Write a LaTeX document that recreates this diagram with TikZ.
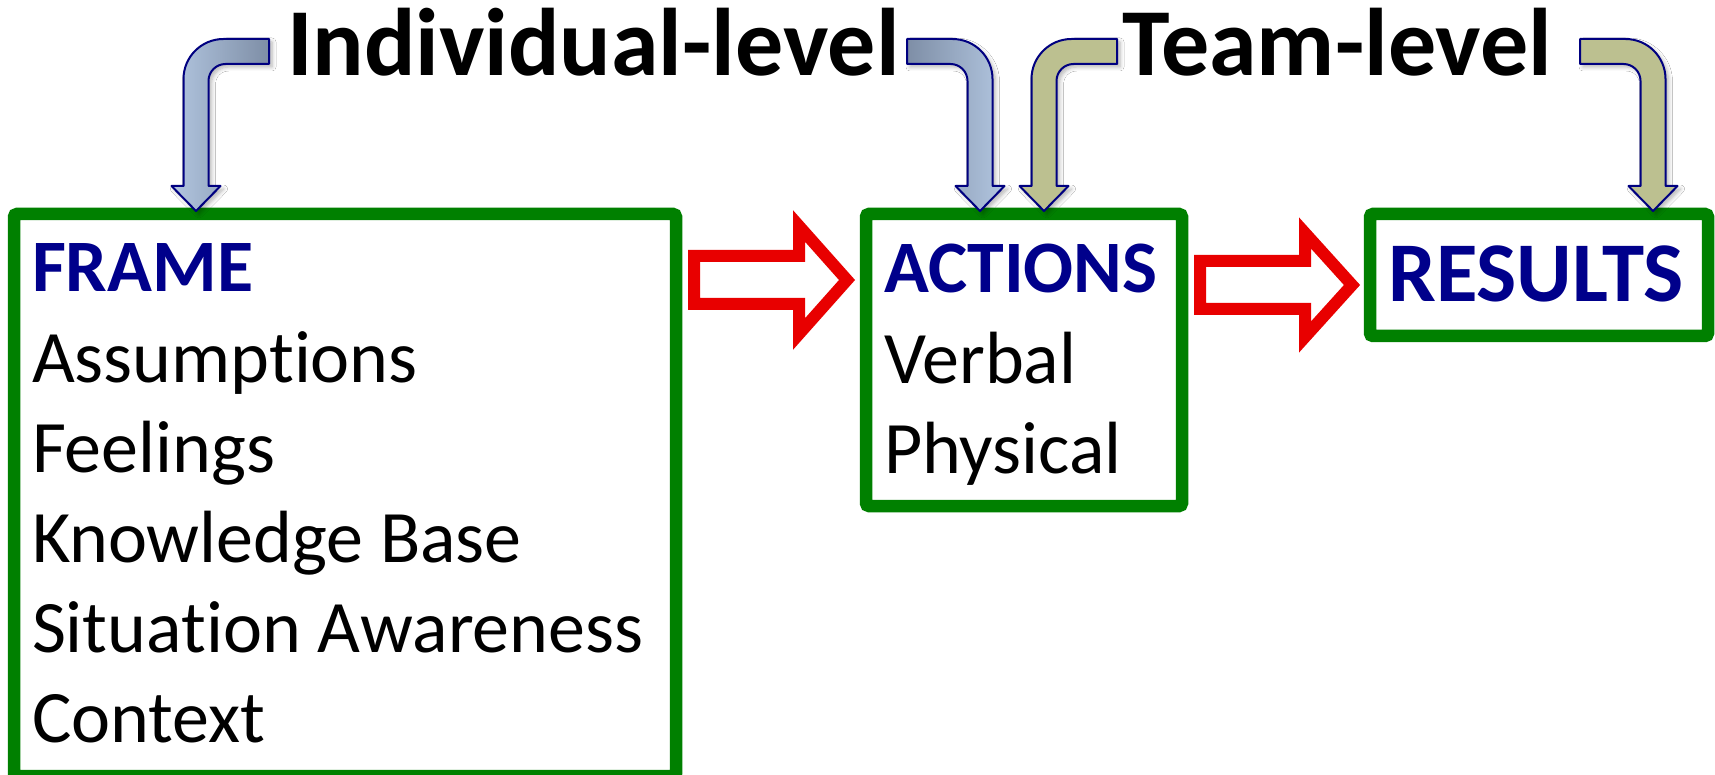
\documentclass[tikz,border=0pt]{standalone}
\usepackage{fontspec}
\setmainfont{Carlito}[Ligatures={NoCommon,NoContextual}]
\usetikzlibrary{shadows.blur}

\definecolor{boxgreen}{RGB}{0,128,0}
\definecolor{headblue}{RGB}{0,0,139}
\definecolor{arrowred}{RGB}{232,0,0}
\definecolor{steellight}{RGB}{178,198,224}
\definecolor{steeldark}{RGB}{126,142,166}
\definecolor{olivefill}{RGB}{188,192,144}
\definecolor{outlinenavy}{RGB}{0,0,128}

\tikzset{
  greenbox/.style={draw=boxgreen, line width=12.5pt, rounded corners=3pt,
    rectangle, inner sep=0pt, outer sep=0pt, anchor=north west},
  bodytext/.style={anchor=base west, inner sep=0pt, outer sep=0pt,
    font=\fontsize{74}{90}\selectfont},
  headtext/.style={bodytext, text=headblue, font=\fontsize{74}{90}\selectfont\bfseries},
  leveltext/.style={anchor=base west, inner sep=0pt, outer sep=0pt,
    font=\fontsize{96}{115}\selectfont\bfseries},
  blockarrow/.style={draw=arrowred, line width=12pt, line join=miter, fill=white},
  bentarrow/.style={draw=outlinenavy, line width=2pt, line join=round,
    blur shadow={shadow xshift=3pt, shadow yshift=-3pt, shadow opacity=30,
      shadow blur radius=4pt, shadow blur steps=6}},
  bluefill/.style={left color=steellight, right color=steeldark},
  bluefillrev/.style={left color=steeldark, right color=steellight},
  olivefillstyle/.style={fill=olivefill},
}

% bent arrow: #1 = shaft centre x, #2 = +1 tail to the right / -1 tail to the left,
% #3 = fill style
\newcommand\bentarrow[3]{%
  \path[bentarrow,#3]
    ({#1+#2*73},39) -- ({#1+#2*27.5},39)
    .. controls ({#1+#2*5.41},39) and ({#1-#2*12.5},56.91) .. ({#1-#2*12.5},79)
    -- ({#1-#2*12.5},186) -- ({#1-#2*24.5},186) -- (#1,211)
    -- ({#1+#2*24.5},186) -- ({#1+#2*12.5},186) -- ({#1+#2*12.5},81)
    .. controls ({#1+#2*12.5},71.61) and ({#1+#2*20.11},64) .. ({#1+#2*29.5},64)
    -- ({#1+#2*73},64) -- cycle;}

\begin{document}
\begin{tikzpicture}[x=1pt, y=-1pt]
  \useasboundingbox[fill=white] (0,0) rectangle (1715,775);

  % boxes
  \node[greenbox, minimum width=662pt, minimum height=562pt] (frame) at (14,214) {};
  \node[greenbox, minimum width=316pt, minimum height=292pt] (actions) at (866,214) {};
  \node[greenbox, minimum width=338pt, minimum height=122pt] (results) at (1370,214) {};

  % frame contents
  \node[headtext] (frameh) at (32,292) {FRAME};
  \node[bodytext] (f1) at (32,382) {Assumptions};
  \node[bodytext] (f2) at (32,472) {Feelings};
  \node[bodytext] (f3) at (32,562) {Knowledge Base};
  \node[bodytext] (f4) at (32,652) {Situation Awareness};
  \node[bodytext] (f5) at (32,742) {Context};

  % actions contents
  \node[headtext] (actionsh) at (884,293) {ACTIONS};
  \node[bodytext] (a1) at (884,383) {Verbal};
  \node[bodytext] (a2) at (884,473) {Physical};

  % results
  \node[anchor=base west, inner sep=0pt, text=headblue,
        font=\fontsize{85}{102}\selectfont\bfseries] (resultsh) at (1388,302) {RESULTS};

  % level labels
  \node[leveltext] (indiv) at (287,76) {Individual-level};
  \node[leveltext] (team) at (1122,76) {Team-level};

  % hollow block arrows between the boxes
  \draw[blockarrow] (694,256) -- (799,256) -- (799,226) -- (847,280)
    -- (799,334) -- (799,304) -- (694,304) -- cycle;
  \draw[blockarrow] (1200,261) -- (1305,261) -- (1305,233) -- (1352,285)
    -- (1305,337) -- (1305,309) -- (1200,309) -- cycle;

  % bent arrows from the level labels down to the boxes
  \bentarrow{196}{1}{bluefill}
  \bentarrow{980}{-1}{bluefillrev}
  \bentarrow{1044}{1}{olivefillstyle}
  \bentarrow{1653}{-1}{olivefillstyle}
\end{tikzpicture}
\end{document}
